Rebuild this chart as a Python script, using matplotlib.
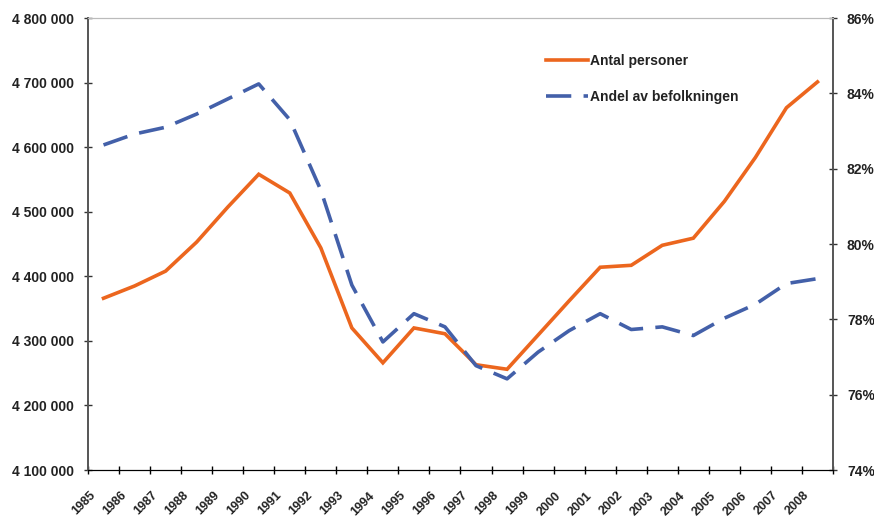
import numpy as np
import matplotlib
matplotlib.use('Agg')
import matplotlib.pyplot as plt
import matplotlib.transforms as mtransforms
from matplotlib.ticker import FuncFormatter, MultipleLocator

plt.rcParams['font.family'] = ['Liberation Sans', 'DejaVu Sans']

years = [str(y) for y in range(1985, 2009)]
antal = [4366000, 4385000, 4408000, 4453000, 4507000, 4558000, 4529000, 4444000,
         4320000, 4266000, 4320000, 4311000, 4263000, 4256000, 4309000, 4362000,
         4414000, 4417000, 4448000, 4459000, 4516000, 4584000, 4661000, 4701000]
andel = [82.63, 82.92, 83.10, 83.45, 83.85, 84.25, 83.30, 81.43,
         78.91, 77.40, 78.15, 77.80, 76.77, 76.42, 77.13, 77.70,
         78.15, 77.73, 77.80, 77.57, 78.03, 78.40, 78.95, 79.08]

ORANGE = '#EC661E'
BLUE = '#4360A9'

fig = plt.figure(figsize=(8.74, 5.16), dpi=100)
ax = fig.add_axes([88 / 874, 1 - 470 / 516, 745 / 874, 452 / 516])
ax2 = ax.twinx()

x = np.arange(len(years))
l1, = ax.plot(x, antal, color=ORANGE, lw=2.6, solid_joinstyle='miter', zorder=3)
l2, = ax2.plot(x, andel, color=BLUE, lw=2.6, dashes=(7, 3.4), zorder=3)

ax.set_xlim(-0.5, len(years) - 0.5)
ax.set_ylim(4100000, 4800000)
ax2.set_ylim(74, 86)

ax.yaxis.set_major_locator(MultipleLocator(100000))
ax.yaxis.set_major_formatter(FuncFormatter(lambda v, p: f'{int(v):,}'.replace(',', ' ')))
ax2.yaxis.set_major_locator(MultipleLocator(2))
ax2.yaxis.set_major_formatter(FuncFormatter(lambda v, p: f'{int(round(v))}%'))

# tick marks on category boundaries, labels on category centres
ax.set_xticks(np.arange(len(years) + 1) - 0.5)
ax.set_xticklabels([])
ax.set_xticks(x, minor=True)
ax.set_xticklabels(years, minor=True, rotation=45, ha='right', va='top',
                   fontsize=9, fontweight='bold')
ax.tick_params(axis='x', which='minor', length=0, pad=14)
offset = mtransforms.ScaledTranslation(-6 / 100, 0, fig.dpi_scale_trans)
for lab in ax.get_xticklabels(minor=True):
    lab.set_transform(lab.get_transform() + offset)

ax.tick_params(axis='x', which='major', direction='inout', length=6, width=1, color='black')
ax.tick_params(axis='y', direction='inout', length=6, width=1, color='#333333',
               labelsize=10, pad=7)
ax2.tick_params(axis='y', direction='inout', length=6, width=1, color='#333333',
                labelsize=10, pad=7)
for lab in ax.get_yticklabels() + ax2.get_yticklabels():
    lab.set_fontweight('bold')
    lab.set_color('#222222')
for lab in ax.get_xticklabels(minor=True):
    lab.set_color('#222222')

for a in (ax, ax2):
    a.spines['top'].set_color('#BBBBBB')
    a.spines['left'].set_color('#555555')
    a.spines['right'].set_color('#555555')
    a.spines['bottom'].set_color('black')
    a.spines['left'].set_linewidth(1.2)
    a.spines['right'].set_linewidth(1.2)

leg = ax2.legend([l1, l2], ['Antal personer', 'Andel av befolkningen'],
                 loc='upper left', bbox_to_anchor=(0.598, 0.948), frameon=False,
                 handlelength=3.0, handletextpad=0.2, labelspacing=1.6,
                 prop={'size': 10, 'weight': 'bold'})
for t in leg.get_texts():
    t.set_color('#222222')

fig.savefig('out.png', dpi=100)
